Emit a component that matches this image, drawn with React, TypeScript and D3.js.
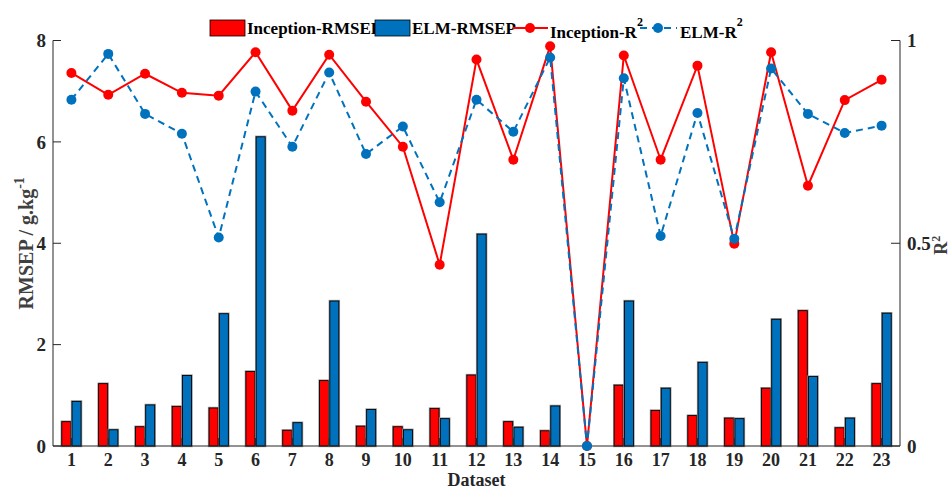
import * as d3 from 'd3';

const DATASETS = ['1', '2', '3', '4', '5', '6', '7', '8', '9', '10', '11', '12', '13', '14', '15', '16', '17', '18', '19', '20', '21', '22', '23'];
const INCEPTION_RMSEP = [0.48, 1.23, 0.38, 0.78, 0.75, 1.47, 0.31, 1.29, 0.39, 0.38, 0.74, 1.4, 0.48, 0.3, 0, 1.2, 0.7, 0.6, 0.55, 1.14, 2.67, 0.36, 1.23];
const ELM_RMSEP = [0.88, 0.32, 0.81, 1.39, 2.61, 6.1, 0.46, 2.86, 0.72, 0.32, 0.54, 4.18, 0.37, 0.79, 0, 2.86, 1.14, 1.65, 0.54, 2.5, 1.37, 0.55, 2.62];
const INCEPTION_R2 = [0.92, 0.866, 0.918, 0.871, 0.864, 0.971, 0.827, 0.965, 0.849, 0.738, 0.447, 0.953, 0.706, 0.986, 0, 0.963, 0.706, 0.938, 0.499, 0.971, 0.642, 0.853, 0.903];
const ELM_R2 = [0.854, 0.967, 0.819, 0.77, 0.514, 0.874, 0.738, 0.921, 0.72, 0.788, 0.601, 0.854, 0.775, 0.958, 0, 0.907, 0.518, 0.821, 0.511, 0.931, 0.819, 0.772, 0.79];
const LEFT_TICKS = [0, 2, 4, 6, 8];
const RIGHT_TICKS = [0, 0.5, 1];

const RED = '#ff0000';
const BLUE = '#0072bd';
const AXIS = '#262626';
const FONT = '"Liberation Serif", "Times New Roman", serif';

const W = 952;
const H = 489;
const left = 53;
const right = 900;
const top = 40.5;
const bottom = 446;

export default function App() {
  const x = d3.scaleLinear().domain([0.5, DATASETS.length + 0.5]).range([left, right]);
  const yL = d3.scaleLinear().domain([0, 8]).range([bottom, top]);
  const yR = d3.scaleLinear().domain([0, 1]).range([bottom, top]);
  // sub band in data units around each category
  const sub = d3.scaleBand().domain(['inc', 'elm']).range([-0.262, 0.262]).paddingInner(0.12);
  const bw = x(sub.bandwidth()) - x(0);

  const line = (vals: number[]) =>
    d3.line<number>().x((_, i) => x(i + 1)).y((d) => yR(d))(vals) || '';

  const bars = (vals: number[], key: string, color: string) =>
    vals.map((v, i) => {
      const bx = x(i + 1 + (sub(key) as number));
      const by = yL(v);
      const h = bottom - by;
      if (h <= 0) return null;
      return (
        <g key={key + i}>
          <rect x={bx} y={by} width={bw} height={h} fill="none" stroke="#9a9a9a" strokeWidth={2.4} />
          <rect x={bx} y={by} width={bw} height={h} fill={color} stroke="#000" strokeWidth={0.9} />
        </g>
      );
    });

  const midY = (top + bottom) / 2;

  return (
    <svg width={W} height={H} style={{ position: 'absolute', left: 0, top: 0, background: '#fff' }} fontFamily={FONT}>
      {bars(INCEPTION_RMSEP, 'inc', RED)}
      {bars(ELM_RMSEP, 'elm', BLUE)}

      {/* x ticks (inward) */}
      {DATASETS.map((d, i) => (
        <g key={'xt' + d}>
          <line x1={x(i + 1)} x2={x(i + 1)} y1={bottom} y2={bottom - 8} stroke={AXIS} strokeWidth={1} />
          <text x={x(i + 1)} y={bottom + 20} textAnchor="middle" fontSize={18} fontWeight="bold" fill={AXIS}>{d}</text>
        </g>
      ))}

      {/* axes */}
      <line x1={left} x2={right} y1={bottom} y2={bottom} stroke={AXIS} strokeWidth={1} />
      <line x1={left} x2={left} y1={top} y2={bottom} stroke={AXIS} strokeWidth={1} />
      <line x1={right} x2={right} y1={top} y2={bottom} stroke={AXIS} strokeWidth={1} />
      {LEFT_TICKS.map((t) => (
        <g key={'yl' + t}>
          <line x1={left} x2={left + 8} y1={yL(t)} y2={yL(t)} stroke={AXIS} />
          <text x={left - 7} y={yL(t)} dy="0.35em" textAnchor="end" fontSize={19} fontWeight="bold" fill={AXIS}>{t}</text>
        </g>
      ))}
      {RIGHT_TICKS.map((t) => (
        <g key={'yr' + t}>
          <line x1={right - 9} x2={right} y1={yR(t)} y2={yR(t)} stroke={AXIS} />
          <text x={right + 7} y={yR(t)} dy="0.35em" textAnchor="start" fontSize={19} fontWeight="bold" fill={AXIS}>{t}</text>
        </g>
      ))}

      {/* R2 lines */}
      <path d={line(INCEPTION_R2)} fill="none" stroke={RED} strokeWidth={2} />
      {INCEPTION_R2.map((v, i) => (
        <circle key={'ir' + i} cx={x(i + 1)} cy={yR(v)} r={5} fill={RED} />
      ))}
      <path d={line(ELM_R2)} fill="none" stroke={BLUE} strokeWidth={2} strokeDasharray="7,5" />
      {ELM_R2.map((v, i) => (
        <circle key={'er' + i} cx={x(i + 1)} cy={yR(v)} r={5} fill={BLUE} />
      ))}

      {/* axis labels */}
      <text x={(left + right) / 2} y={486} textAnchor="middle" fontSize={18} fontWeight="bold" fill={AXIS}>Dataset</text>
      <text transform={`translate(33,${midY}) rotate(-90)`} textAnchor="middle" fontSize={20} fontWeight="bold" fill="#404040">
        RMSEP / g.kg<tspan dy={-9} fontSize={14}>-1</tspan>
      </text>
      <text transform={`translate(947,${midY + 2}) rotate(-90)`} textAnchor="middle" fontSize={18} fontWeight="bold" fill="#404040">
        R<tspan dy={-7} fontSize={12}>2</tspan>
      </text>

      {/* legend */}
      <g fontSize={17} fontWeight="bold" fill="#000">
        <rect x={210} y={20} width={35} height={16} fill={RED} stroke="#000" strokeWidth={0.8} />
        <text x={247} y={34}>Inception-RMSEP</text>
        <rect x={375} y={20} width={35} height={16} fill={BLUE} stroke="#000" strokeWidth={0.8} />
        <text x={412} y={34}>ELM-RMSEP</text>
        <line x1={513} x2={548} y1={28} y2={28} stroke={RED} strokeWidth={2} />
        <circle cx={530} cy={28} r={5} fill={RED} />
        <text x={550} y={38}>Inception-R<tspan dx={0} dy={-12} fontSize={12}>2</tspan></text>
        <line x1={640} x2={677} y1={28} y2={28} stroke={BLUE} strokeWidth={2} strokeDasharray="7,5" />
        <circle cx={658} cy={28} r={5} fill={BLUE} />
        <text x={680} y={38}>ELM-R<tspan dx={0} dy={-12} fontSize={12}>2</tspan></text>
      </g>
    </svg>
  );
}
